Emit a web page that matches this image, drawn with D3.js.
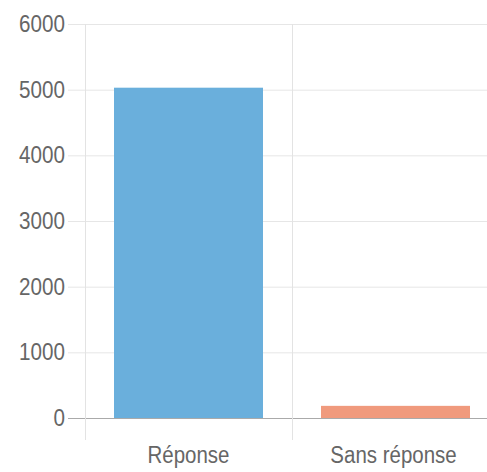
<!DOCTYPE html>
<html><head><meta charset="utf-8">
<script src="https://cdn.jsdelivr.net/npm/d3@7"></script>
<style>
html,body{margin:0;padding:0;background:#fff;}
svg text{font-family:"Liberation Sans",Arial,sans-serif;fill:#666;}
</style></head>
<body>
<svg id="chart" width="487" height="472"></svg>
<script>
const categories = ["Réponse", "Sans réponse"];
const values = [5030, 185];
const colors = ["#6aafdc", "#f09a7d"];
const yTicks = [0, 1000, 2000, 3000, 4000, 5000, 6000];

const svg = d3.select("#chart");
const x0 = 85, x1 = 499, yTop = 24, yBot = 418;
const x = d3.scaleBand().domain(categories).range([x0, x1]).paddingInner(0).paddingOuter(0);
const y = d3.scaleLinear().domain([0, 6000]).range([yBot, yTop]);

// horizontal grid lines
svg.append("g").selectAll("line").data(yTicks).join("line")
  .attr("x1", 68).attr("x2", 487)
  .attr("y1", d => y(d) + 0.5).attr("y2", d => y(d) + 0.5)
  .attr("stroke", d => d === 0 ? "#aaa" : "#e6e6e6").attr("stroke-width", 1);

// vertical grid lines (category boundaries)
const bounds = [x0, x0 + x.bandwidth()];
svg.append("g").selectAll("line").data(bounds).join("line")
  .attr("x1", d => d + 0.5).attr("x2", d => d + 0.5)
  .attr("y1", yTop).attr("y2", 440)
  .attr("stroke", "#e3e3e3").attr("stroke-width", 1);

// bars
const pad = 29;
svg.append("g").selectAll("rect").data(categories).join("rect")
  .attr("x", d => x(d) + pad)
  .attr("width", x.bandwidth() - 2 * pad)
  .attr("y", (d, i) => y(values[i]))
  .attr("height", (d, i) => y(0) - y(values[i]))
  .attr("fill", (d, i) => colors[i]);

// y axis labels
svg.append("g").selectAll("g").data(yTicks).join("g")
  .attr("transform", d => `translate(65,${y(d)}) scale(0.86,1)`)
  .append("text")
  .attr("text-anchor", "end").attr("dominant-baseline", "central")
  .attr("font-size", 24)
  .text(d => d);

// x labels
svg.append("g").selectAll("g").data(categories).join("g")
  .attr("transform", d => `translate(${x(d) + x.bandwidth() / 2 - (d === "Sans réponse" ? 2 : 0)},463) scale(0.89,1)`)
  .append("text")
  .attr("text-anchor", "middle")
  .attr("font-size", 23)
  .text(d => d);
</script>
</body></html>
